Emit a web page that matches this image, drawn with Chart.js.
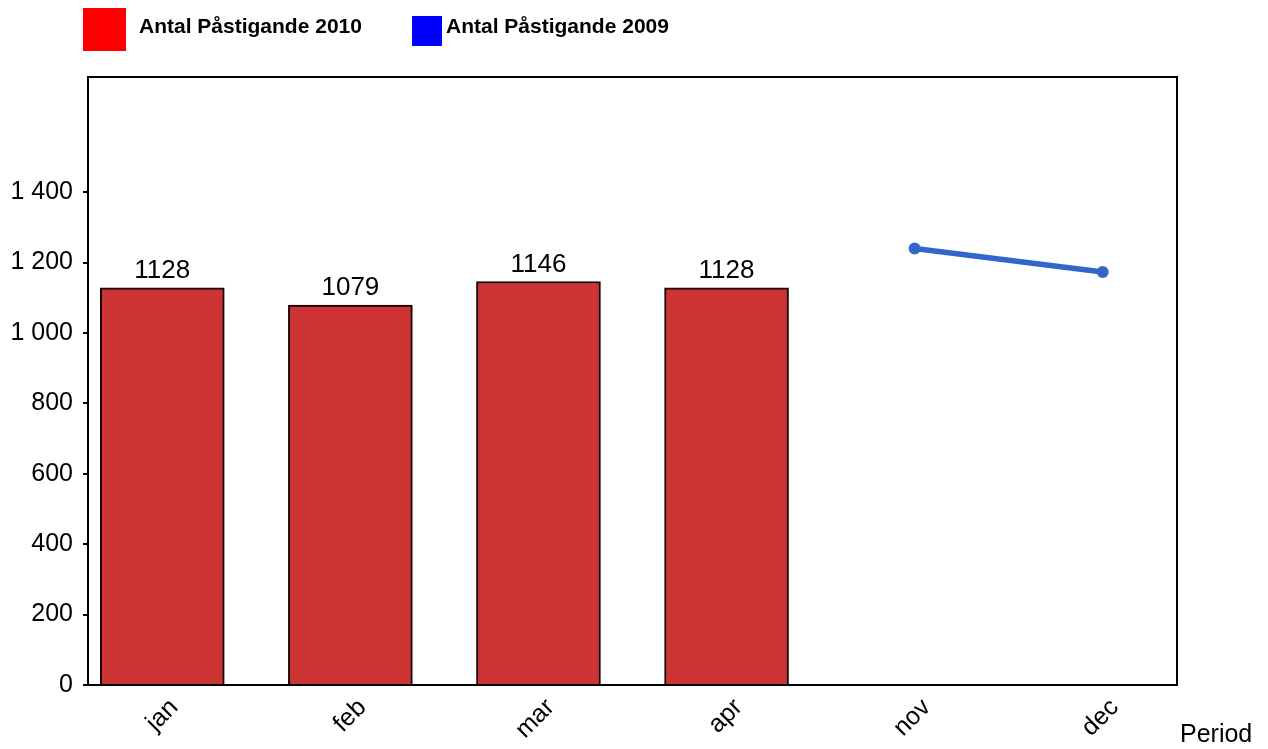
<!DOCTYPE html>
<html>
<head>
<meta charset="utf-8">
<script src="https://cdn.jsdelivr.net/npm/chart.js@4"></script>
<style>
  html, body { margin: 0; padding: 0; background: #fff; }
  #wrap { position: relative; width: 1268px; height: 749px; }
</style>
</head>
<body>
<div id="wrap"><canvas id="c" width="1268" height="749"></canvas></div>
<script>
const categories = ['jan', 'feb', 'mar', 'apr', 'nov', 'dec'];
const values2010 = [1128, 1079, 1146, 1128, null, null];
const values2009 = [null, null, null, null, 1240, 1173];
const yTicks = [0, 200, 400, 600, 800, 1000, 1200, 1400];
const legendLabels = ['Antal Påstigande 2010', 'Antal Påstigande 2009'];

const FONT = '"Liberation Sans", Arial, Helvetica, sans-serif';

function fmt(v) { return String(v).replace(/\B(?=(\d{3})+(?!\d))/g, ' '); }

const toPoints = arr => arr.map((v, i) => v == null ? null : { x: i, y: v }).filter(p => p);

const decor = {
  id: 'decor',
  afterDatasetsDraw(chart) {
    const ctx = chart.ctx;
    const a = chart.chartArea;
    ctx.save();
    // plot frame
    ctx.strokeStyle = '#000';
    ctx.lineWidth = 2;
    ctx.strokeRect(a.left, a.top, a.right - a.left, a.bottom - a.top);
    // bar value labels
    ctx.fillStyle = '#000';
    ctx.font = '26px ' + FONT;
    ctx.textAlign = 'center';
    ctx.textBaseline = 'alphabetic';
    const meta = chart.getDatasetMeta(0);
    meta.data.forEach((bar, i) => {
      const raw = meta._parsed[i];
      ctx.fillText(String(raw.y), bar.x, bar.y - 10);
    });
    // axis title
    ctx.font = '25px ' + FONT;
    ctx.textAlign = 'left';
    ctx.fillText('Period', 1180, 742);
    // legend
    ctx.fillStyle = '#FF0000';
    ctx.fillRect(83, 8, 43, 43);
    ctx.fillStyle = '#0000FF';
    ctx.fillRect(412, 16, 30, 30);
    ctx.fillStyle = '#000';
    ctx.font = 'bold 21px ' + FONT;
    ctx.fillText(legendLabels[0], 139, 33);
    ctx.fillText(legendLabels[1], 446, 33);
    ctx.restore();
  }
};

new Chart(document.getElementById('c'), {
  type: 'bar',
  data: {
    datasets: [
      {
        type: 'bar',
        label: legendLabels[0],
        data: toPoints(values2010),
        backgroundColor: '#CC3333',
        borderColor: '#1a0000',
        borderWidth: 2,
        barThickness: 124,
        order: 2
      },
      {
        type: 'line',
        label: legendLabels[1],
        data: toPoints(values2009),
        borderColor: '#3366CC',
        backgroundColor: '#3366CC',
        borderWidth: 5.5,
        pointRadius: 6,
        pointBackgroundColor: '#3366CC',
        pointBorderWidth: 0,
        fill: false,
        order: 1
      }
    ]
  },
  options: {
    responsive: false,
    animation: false,
    devicePixelRatio: 1,
    layout: { padding: { top: 77, right: 91, left: 0, bottom: 0 } },
    plugins: { legend: { display: false }, tooltip: { enabled: false } },
    scales: {
      x: {
        type: 'linear',
        offset: false,
        bounds: 'ticks',
        min: -0.395,
        max: 5.395,
        afterBuildTicks(scale) { scale.ticks = categories.map((c, i) => ({ value: i })); },
        afterFit(scale) { scale.height = 64; },
        grid: { display: false, drawTicks: false, offset: false },
        border: { display: false },
        ticks: {
          minRotation: 45,
          maxRotation: 45,
          autoSkip: false,
          padding: 8,
          labelOffset: 12,
          color: '#000',
          font: { size: 25, family: FONT },
          callback: v => categories[v]
        }
      },
      y: {
        min: 0,
        max: 1727,
        afterBuildTicks(scale) { scale.ticks = yTicks.map(v => ({ value: v })); },
        afterFit(scale) { scale.width = 88; },
        grid: { drawOnChartArea: false, drawTicks: true, tickLength: 5, color: '#000', lineWidth: 2 },
        border: { display: false },
        ticks: {
          padding: 10,
          color: '#000',
          font: { size: 25, family: FONT },
          callback: v => fmt(v)
        }
      }
    }
  },
  plugins: [decor]
});
</script>
</body>
</html>
